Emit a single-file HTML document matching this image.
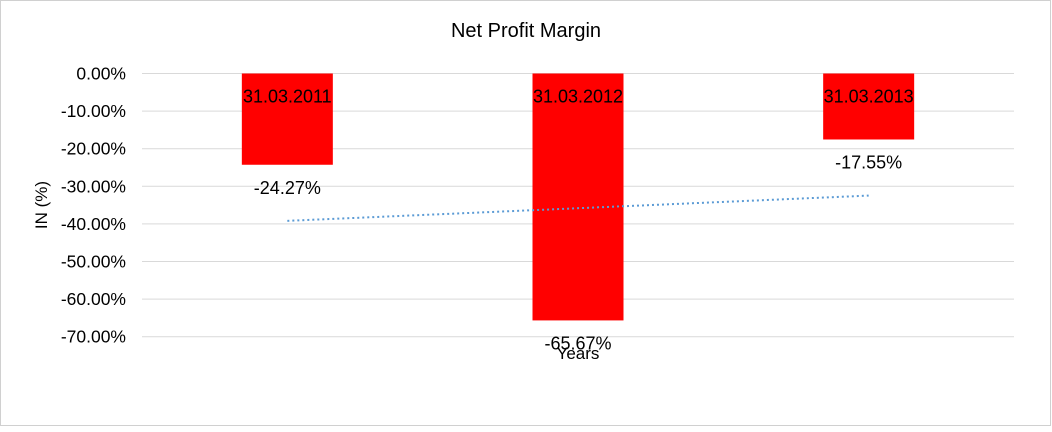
<!DOCTYPE html>
<html><head><meta charset="utf-8"><style>
body{margin:0;background:#fff}
svg text{font-family:"Liberation Sans",Arial,sans-serif;fill:#000}
</style></head><body>
<svg width="1052" height="427">
<rect x="0.5" y="0.5" width="1050" height="425" fill="#fff" stroke="#d0d0d0"/>
<text x="526" y="37" font-size="20" text-anchor="middle">Net Profit Margin</text>
<text transform="translate(47,205) rotate(-90)" font-size="17" text-anchor="middle">IN (%)</text>
<text x="578" y="359" font-size="17" text-anchor="middle">Years</text>
<g id="grid"></g><g id="bars"></g><g id="trend"></g>
</svg>
<script>
const categories=["31.03.2011","31.03.2012","31.03.2013"];
const values=[-24.27,-65.67,-17.55];
const valueLabels=["-24.27%","-65.67%","-17.55%"];
const ticks=[0,-10,-20,-30,-40,-50,-60,-70];
const NS="http://www.w3.org/2000/svg";
const L=142,R=1014,y0=73.5,pp=37.6;
const y=v=>y0-v/10*pp;
const cw=(R-L)/categories.length;
const xc=i=>L+cw*(i+0.5);
function mk(t,a,p){const e=document.createElementNS(NS,t);for(const k in a)e.setAttribute(k,a[k]);p.appendChild(e);return e;}
const g=document.getElementById('grid');
ticks.forEach(t=>{
 const l=mk('line',{x1:L,x2:R,y1:y(t),y2:y(t),stroke:'#d9d9d9'},g);
 
 
 const tx=mk('text',{x:126,y:y(t)+6,'font-size':17.5,'text-anchor':'end'},g);
 tx.textContent=t.toFixed(2)+'%';
 
 
});
const b=document.getElementById('bars');
values.forEach((v,i)=>{
 const r=mk('rect',{x:xc(i)-45.5,y:y(0),width:91,height:y(v)-y(0),fill:'#ff0000'},b);
 
 
 const c=mk('text',{x:xc(i),y:y(0)+29,'font-size':18,'text-anchor':'middle'},b);
 c.textContent=categories[i];
 
 
 const vl=mk('text',{x:xc(i),y:y(v)+29,'font-size':18,'text-anchor':'middle'},b);
 vl.textContent=valueLabels[i];
 
 
});
const n=values.length,mx=(n-1)/2,my=values.reduce((a,c)=>a+c,0)/n;
let sxy=0,sxx=0;values.forEach((v,i)=>{sxy+=(i-mx)*(v-my);sxx+=(i-mx)*(i-mx);});
const s=sxy/sxx,f=i=>my+s*(i-mx);
const tl=mk('line',{x1:xc(0),y1:y(f(0)),x2:xc(n-1),y2:y(f(n-1)),stroke:'#5b9bd5','stroke-width':2,'stroke-dasharray':'2 3'},document.getElementById('trend'));


</script>
</body></html>
